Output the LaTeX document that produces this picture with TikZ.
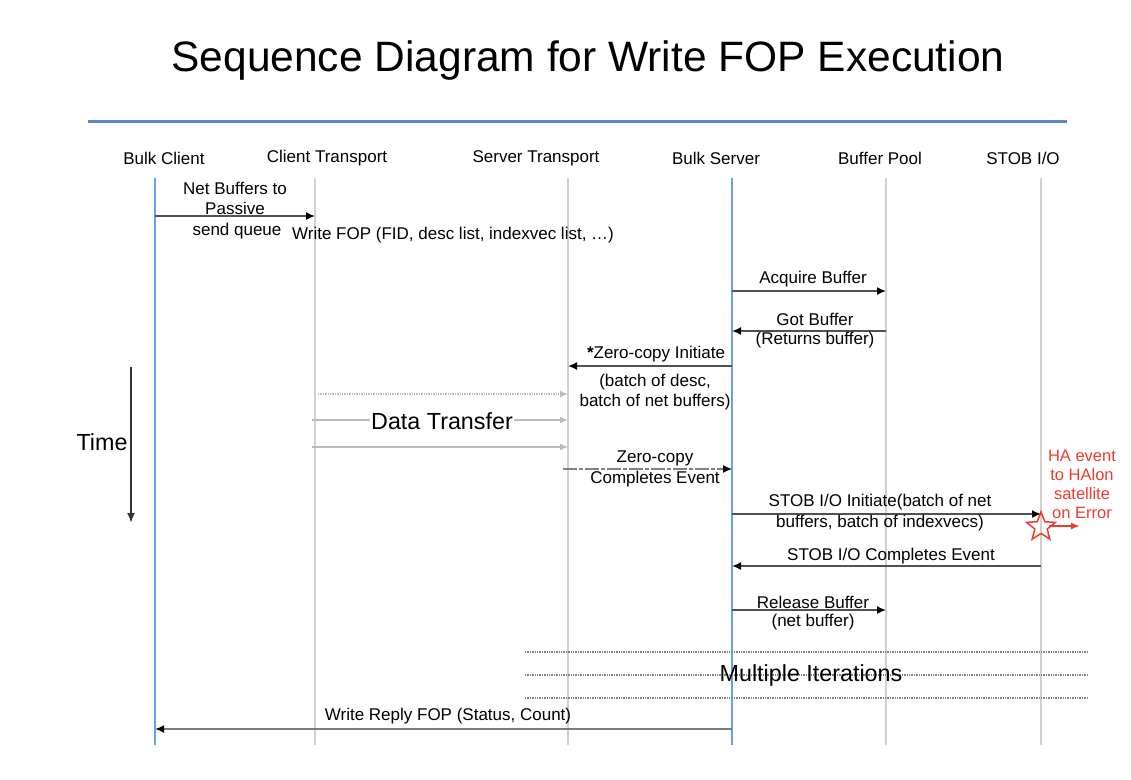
\documentclass[tikz,border=0pt]{standalone}
\usepackage{fontspec}
\setmainfont{Liberation Sans}
\usetikzlibrary{arrows.meta,shapes.geometric}
\definecolor{lifegray}{HTML}{D0D0D0}
\definecolor{lifeblue}{HTML}{6D9EEB}
\definecolor{ruleblue}{HTML}{5B87C5}
\definecolor{msggray}{HTML}{505050}
\definecolor{xfergray}{HTML}{BBBBBB}
\definecolor{haRed}{HTML}{F03A2E}
\begin{document}
\begin{tikzpicture}[x=1pt,y=-1pt,
  every node/.style={inner sep=0pt, outer sep=0pt},
  titlef/.style={font=\fontsize{42.5}{48}\selectfont},
  hdr/.style={font=\fontsize{17}{20}\selectfont},
  lbl/.style={font=\fontsize{17}{20}\selectfont, align=center},
  big/.style={font=\fontsize{23.3}{26}\selectfont, fill=white, inner xsep=1pt},
  life/.style={lifegray, line width=2pt},
  lifeb/.style={lifeblue, line width=2pt},
  msg/.style={msggray, line width=1.6pt, -{Latex[length=9pt,width=8pt,color=black]}},
  xfer/.style={xfergray, line width=1.4pt, -{Latex[length=8pt,width=7pt]}},
  iter/.style={gray, line width=1.4pt, densely dotted},
  halbl/.style={font=\fontsize{16.5}{19}\selectfont, align=center, text=haRed}
]
\useasboundingbox (0,0) rectangle (1131,779);

% title and rule
\node[titlef] (title) at (588,61) {Sequence Diagram for Write FOP Execution};
\coordinate (ruleL) at (88,121);
\coordinate (ruleR) at (1067,121);
\draw[ruleblue, line width=3pt] (ruleL) -- (ruleR);

% headers
\node[hdr] (hBC) at (164,158) {Bulk Client};
\node[hdr] (hCT) at (327,158) {Client Transport};
\node[hdr] (hST) at (536,158) {Server Transport};
\node[hdr] (hBS) at (716,158) {Bulk Server};
\node[hdr] (hBP) at (880,158) {Buffer Pool};
\node[hdr] (hSO) at (1023,158) {STOB I/O};

% lifeline ends
\coordinate (BC) at (155,178);  \coordinate (BCe) at (155,745);
\coordinate (CT) at (315,178);  \coordinate (CTe) at (315,745);
\coordinate (ST) at (568,178);  \coordinate (STe) at (568,745);
\coordinate (BS) at (732,178);  \coordinate (BSe) at (732,745);
\coordinate (BP) at (886,178);  \coordinate (BPe) at (886,745);
\coordinate (SO) at (1041,178); \coordinate (SOe) at (1041,745);

\draw[life] (CT) -- (CTe);
\draw[life] (ST) -- (STe);
\draw[life] (BP) -- (BPe);
\draw[life] (SO) -- (SOe);
\draw[lifeb] (BC) -- (BCe);
\draw[lifeb] (BS) -- (BSe);

% message rows
\coordinate (r1) at (0,216);
\coordinate (r3) at (0,291);
\coordinate (r4) at (0,331);
\coordinate (r5) at (0,366);
\coordinate (r6a) at (0,394);
\coordinate (r6b) at (0,420);
\coordinate (r6c) at (0,447);
\coordinate (r7) at (0,469);
\coordinate (r8) at (0,514);
\coordinate (r9) at (0,566);
\coordinate (r10) at (0,610);
\coordinate (r12) at (0,729);

% 1 Net buffers to passive send queue
\draw[msg] (BC |- r1) -- (CT |- r1);
\node[lbl] (l1a) at (235,198) {Net Buffers to\\Passive};
\node[lbl] (l1b) at (237,231) {send queue};

% 2 Write FOP
\node[lbl] (l2) at (453,235) {Write FOP (FID, desc list, indexvec list, …)};

% 3 Acquire buffer
\draw[msg] (BS |- r3) -- (BP |- r3);
\node[lbl] (l3) at (813,279) {Acquire Buffer};

% 4 Got buffer
\draw[msg] (BP |- r4) -- (BS |- r4);
\node[lbl] (l4a) at (815,319) {Got Buffer};
\node[lbl] (l4b) at (815,340) {(Returns buffer)};

% 5 Zero-copy initiate
\draw[msg] (BS |- r5) -- (ST |- r5);
\node[lbl] (l5a) at (656,354) {\textbf{*}Zero-copy Initiate};
\node[lbl] (l5b) at (655,392) {(batch of desc,\\batch of net buffers)};

% 6 Data transfer
\coordinate (x6a) at (318,394);
\coordinate (x6b) at (312,420);
\coordinate (x6c) at (312,447);
\draw[xfer, densely dotted] (x6a) -- (ST |- r6a);
\draw[xfer] (x6b) -- (ST |- r6b);
\draw[xfer] (x6c) -- (ST |- r6c);
\node[big] (dt) at (442,421) {Data Transfer};

% 7 Zero-copy completes
\coordinate (x7) at (563,469);
\draw[msg, gray, line width=1.2pt, dash pattern=on 14pt off 2pt on 4pt off 2pt] (x7) -- (BS |- r7);
\node[lbl] (l7a) at (655,458) {Zero-copy};
\node[lbl] (l7b) at (655,479) {Completes Event};

% 8 STOB I/O initiate
\draw[msg] (BS |- r8) -- (SO |- r8);
\node[lbl] (l8a) at (880,502) {STOB I/O Initiate(batch of net};
\node[lbl] (l8b) at (880,523) {buffers, batch of indexvecs)};

% HA event
\node[star, star points=5, star point ratio=2.3, draw=haRed, line width=1.5pt, minimum size=30pt] (star) at (1041,527) {};
\coordinate (haEnd) at (1080,526);
\draw[haRed, line width=1.6pt, -{Latex[length=9pt,width=7pt]}] (star.center) ++(8,-1) -- (haEnd);
\node[halbl] (ha) at (1082,484) {HA event\\to HAlon\\satellite\\on Error};

% 9 STOB I/O completes
\draw[msg] (SO |- r9) -- (BS |- r9);
\node[lbl] (l9) at (891,556) {STOB I/O Completes Event};

% 10 Release buffer
\draw[msg] (BS |- r10) -- (BP |- r10);
\node[lbl] (l10a) at (813,602) {Release Buffer};
\node[lbl] (l10b) at (813,622) {(net buffer)};

% 11 Multiple iterations
\coordinate (i1L) at (525,652); \coordinate (i1R) at (1088,652);
\coordinate (i2L) at (525,675); \coordinate (i2R) at (1088,675);
\coordinate (i3L) at (525,698); \coordinate (i3R) at (1088,698);
\draw[iter] (i1L) -- (i1R);
\draw[iter] (i2L) -- (i2R);
\draw[iter] (i3L) -- (i3R);
\node[font=\fontsize{23.3}{26}\selectfont] (mi) at (811,675) {Multiple Iterations};

% 12 Write reply
\draw[msg, line width=2.6pt, color=msggray!75] (BS |- r12) -- (BC |- r12);
\node[lbl] (l12) at (448,716) {Write Reply FOP (Status, Count)};

% time axis
\coordinate (t1) at (131,367);
\coordinate (t2) at (131,523);
\draw[black!80, line width=1.8pt, -{Latex[length=10pt,width=8pt]}] (t1) -- (t2);
\node[font=\fontsize{23.3}{26}\selectfont] (time) at (102,442) {Time};
\end{tikzpicture}
\end{document}
